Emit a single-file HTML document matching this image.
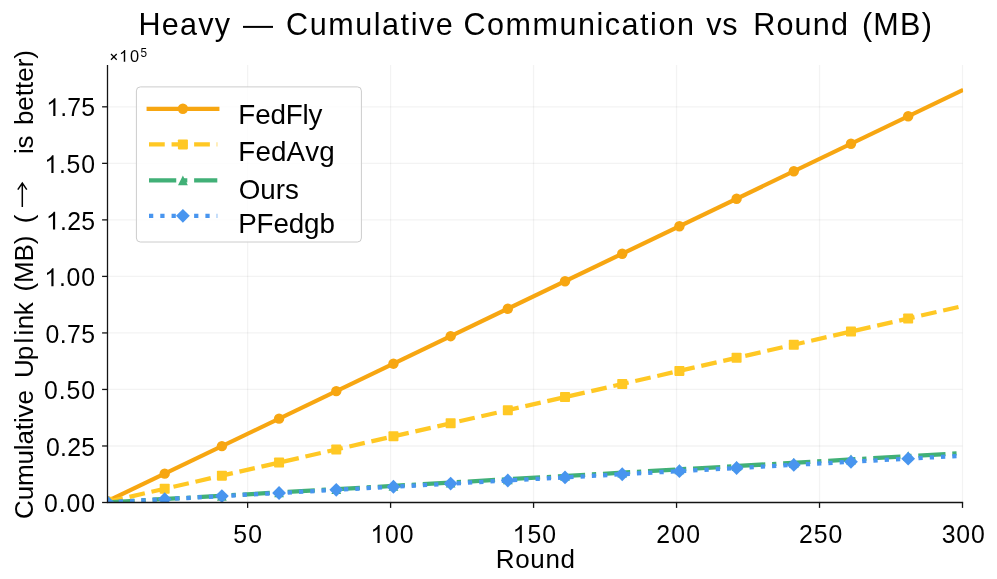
<!DOCTYPE html>
<html><head><meta charset="utf-8"><title>Heavy - Cumulative Communication vs Round (MB)</title>
<style>
html,body{margin:0;padding:0;background:#fff;}
body{width:997px;height:579px;overflow:hidden;font-family:"Liberation Sans", sans-serif;}
svg{display:block;}
text{font-family:"Liberation Sans", sans-serif;fill:#000;font-kerning:none;white-space:pre;}
svg{will-change:transform;}
text{filter:grayscale(1);}
</style></head><body>
<svg width="997" height="579" viewBox="0 0 997 579">
<rect width="997" height="579" fill="#fff"/>
<defs><clipPath id="ax"><rect x="107.5" y="65.0" width="855.6" height="437.5"/></clipPath></defs>

<g stroke="#000" stroke-opacity="0.047" stroke-width="1.3" fill="none">
<line x1="247.62" y1="65.0" x2="247.62" y2="502.5"/>
<line x1="390.59" y1="65.0" x2="390.59" y2="502.5"/>
<line x1="533.57" y1="65.0" x2="533.57" y2="502.5"/>
<line x1="676.55" y1="65.0" x2="676.55" y2="502.5"/>
<line x1="819.52" y1="65.0" x2="819.52" y2="502.5"/>
<line x1="962.50" y1="65.0" x2="962.50" y2="502.5"/>
<line x1="107.5" y1="445.98" x2="962.5" y2="445.98"/>
<line x1="107.5" y1="389.45" x2="962.5" y2="389.45"/>
<line x1="107.5" y1="332.93" x2="962.5" y2="332.93"/>
<line x1="107.5" y1="276.40" x2="962.5" y2="276.40"/>
<line x1="107.5" y1="219.88" x2="962.5" y2="219.88"/>
<line x1="107.5" y1="163.35" x2="962.5" y2="163.35"/>
<line x1="107.5" y1="106.82" x2="962.5" y2="106.82"/>
</g>
<g clip-path="url(#ax)">
<polyline points="107.50,501.13 963.21,89.82" fill="none" stroke="#F7A611" stroke-width="4.2"/>
<circle cx="107.50" cy="501.13" r="5.2" fill="#F7A611"/>
<circle cx="164.69" cy="473.64" r="5.2" fill="#F7A611"/>
<circle cx="221.88" cy="446.15" r="5.2" fill="#F7A611"/>
<circle cx="279.07" cy="418.66" r="5.2" fill="#F7A611"/>
<circle cx="336.26" cy="391.17" r="5.2" fill="#F7A611"/>
<circle cx="393.45" cy="363.68" r="5.2" fill="#F7A611"/>
<circle cx="450.64" cy="336.19" r="5.2" fill="#F7A611"/>
<circle cx="507.83" cy="308.70" r="5.2" fill="#F7A611"/>
<circle cx="565.03" cy="281.21" r="5.2" fill="#F7A611"/>
<circle cx="622.22" cy="253.72" r="5.2" fill="#F7A611"/>
<circle cx="679.41" cy="226.23" r="5.2" fill="#F7A611"/>
<circle cx="736.60" cy="198.74" r="5.2" fill="#F7A611"/>
<circle cx="793.79" cy="171.25" r="5.2" fill="#F7A611"/>
<circle cx="850.98" cy="143.77" r="5.2" fill="#F7A611"/>
<circle cx="908.17" cy="116.28" r="5.2" fill="#F7A611"/>
<polyline points="107.50,501.85 963.21,305.90" fill="none" stroke="#FFC824" stroke-width="4.26" stroke-dasharray="15.75 6.81"/>
<rect x="102.50" y="496.85" width="10.0" height="10.0" rx="0.8" fill="#FFC824"/>
<rect x="159.69" y="483.75" width="10.0" height="10.0" rx="0.8" fill="#FFC824"/>
<rect x="216.88" y="470.65" width="10.0" height="10.0" rx="0.8" fill="#FFC824"/>
<rect x="274.07" y="457.56" width="10.0" height="10.0" rx="0.8" fill="#FFC824"/>
<rect x="331.26" y="444.46" width="10.0" height="10.0" rx="0.8" fill="#FFC824"/>
<rect x="388.45" y="431.37" width="10.0" height="10.0" rx="0.8" fill="#FFC824"/>
<rect x="445.64" y="418.27" width="10.0" height="10.0" rx="0.8" fill="#FFC824"/>
<rect x="502.83" y="405.18" width="10.0" height="10.0" rx="0.8" fill="#FFC824"/>
<rect x="560.03" y="392.08" width="10.0" height="10.0" rx="0.8" fill="#FFC824"/>
<rect x="617.22" y="378.98" width="10.0" height="10.0" rx="0.8" fill="#FFC824"/>
<rect x="674.41" y="365.89" width="10.0" height="10.0" rx="0.8" fill="#FFC824"/>
<rect x="731.60" y="352.79" width="10.0" height="10.0" rx="0.8" fill="#FFC824"/>
<rect x="788.79" y="339.70" width="10.0" height="10.0" rx="0.8" fill="#FFC824"/>
<rect x="845.98" y="326.60" width="10.0" height="10.0" rx="0.8" fill="#FFC824"/>
<rect x="903.17" y="313.51" width="10.0" height="10.0" rx="0.8" fill="#FFC824"/>
<polyline points="107.50,502.34 963.21,453.01" fill="none" stroke="#41B077" stroke-width="4.26" stroke-dasharray="27.24 6.81 4.26 6.81"/>
<path d="M107.50 497.44 L112.40 507.24 L102.60 507.24 Z" fill="#41B077"/>
<path d="M164.69 494.14 L169.59 503.94 L159.79 503.94 Z" fill="#41B077"/>
<path d="M221.88 490.84 L226.78 500.64 L216.98 500.64 Z" fill="#41B077"/>
<path d="M279.07 487.55 L283.97 497.35 L274.17 497.35 Z" fill="#41B077"/>
<path d="M336.26 484.25 L341.16 494.05 L331.36 494.05 Z" fill="#41B077"/>
<path d="M393.45 480.95 L398.35 490.75 L388.55 490.75 Z" fill="#41B077"/>
<path d="M450.64 477.66 L455.54 487.46 L445.74 487.46 Z" fill="#41B077"/>
<path d="M507.83 474.36 L512.73 484.16 L502.93 484.16 Z" fill="#41B077"/>
<path d="M565.03 471.06 L569.93 480.86 L560.13 480.86 Z" fill="#41B077"/>
<path d="M622.22 467.77 L627.12 477.57 L617.32 477.57 Z" fill="#41B077"/>
<path d="M679.41 464.47 L684.31 474.27 L674.51 474.27 Z" fill="#41B077"/>
<path d="M736.60 461.17 L741.50 470.97 L731.70 470.97 Z" fill="#41B077"/>
<path d="M793.79 457.88 L798.69 467.68 L788.89 467.68 Z" fill="#41B077"/>
<path d="M850.98 454.58 L855.88 464.38 L846.08 464.38 Z" fill="#41B077"/>
<path d="M908.17 451.28 L913.07 461.08 L903.27 461.08 Z" fill="#41B077"/>
<polyline points="107.50,502.34 963.21,455.66" fill="none" stroke="#4895EF" stroke-width="4.26" stroke-dasharray="4.26 7.02"/>
<path d="M107.50 495.44 L114.40 502.34 L107.50 509.24 L100.60 502.34 Z" fill="#4895EF"/>
<path d="M164.69 492.32 L171.59 499.22 L164.69 506.12 L157.79 499.22 Z" fill="#4895EF"/>
<path d="M221.88 489.20 L228.78 496.10 L221.88 503.00 L214.98 496.10 Z" fill="#4895EF"/>
<path d="M279.07 486.08 L285.97 492.98 L279.07 499.88 L272.17 492.98 Z" fill="#4895EF"/>
<path d="M336.26 482.96 L343.16 489.86 L336.26 496.76 L329.36 489.86 Z" fill="#4895EF"/>
<path d="M393.45 479.84 L400.35 486.74 L393.45 493.64 L386.55 486.74 Z" fill="#4895EF"/>
<path d="M450.64 476.72 L457.54 483.62 L450.64 490.52 L443.74 483.62 Z" fill="#4895EF"/>
<path d="M507.83 473.60 L514.73 480.50 L507.83 487.40 L500.93 480.50 Z" fill="#4895EF"/>
<path d="M565.03 470.48 L571.93 477.38 L565.03 484.28 L558.13 477.38 Z" fill="#4895EF"/>
<path d="M622.22 467.36 L629.12 474.26 L622.22 481.16 L615.32 474.26 Z" fill="#4895EF"/>
<path d="M679.41 464.24 L686.31 471.14 L679.41 478.04 L672.51 471.14 Z" fill="#4895EF"/>
<path d="M736.60 461.12 L743.50 468.02 L736.60 474.92 L729.70 468.02 Z" fill="#4895EF"/>
<path d="M793.79 458.00 L800.69 464.90 L793.79 471.80 L786.89 464.90 Z" fill="#4895EF"/>
<path d="M850.98 454.88 L857.88 461.78 L850.98 468.68 L844.08 461.78 Z" fill="#4895EF"/>
<path d="M908.17 451.76 L915.07 458.66 L908.17 465.56 L901.27 458.66 Z" fill="#4895EF"/>
</g>
<g stroke="#141414" stroke-width="1.3" fill="none">
<line x1="107.5" y1="65.0" x2="107.5" y2="502.8"/>
<line x1="106.85" y1="502.5" x2="963.15" y2="502.5"/>
<line x1="247.62" y1="502.5" x2="247.62" y2="507.9"/>
<line x1="390.59" y1="502.5" x2="390.59" y2="507.9"/>
<line x1="533.57" y1="502.5" x2="533.57" y2="507.9"/>
<line x1="676.55" y1="502.5" x2="676.55" y2="507.9"/>
<line x1="819.52" y1="502.5" x2="819.52" y2="507.9"/>
<line x1="962.50" y1="502.5" x2="962.50" y2="507.9"/>
<line x1="102.1" y1="502.50" x2="107.5" y2="502.50"/>
<line x1="102.1" y1="445.98" x2="107.5" y2="445.98"/>
<line x1="102.1" y1="389.45" x2="107.5" y2="389.45"/>
<line x1="102.1" y1="332.93" x2="107.5" y2="332.93"/>
<line x1="102.1" y1="276.40" x2="107.5" y2="276.40"/>
<line x1="102.1" y1="219.88" x2="107.5" y2="219.88"/>
<line x1="102.1" y1="163.35" x2="107.5" y2="163.35"/>
<line x1="102.1" y1="106.82" x2="107.5" y2="106.82"/>
</g>
<text transform="translate(233.31 542.90) scale(0.9615 1)" font-size="25.79" letter-spacing="1.224">50</text>
<path transform="translate(370.40 542.90) scale(0.01211 -0.01211)" d="M763 0L583 0L583 1147Q518 1085 412.5 1023Q307 961 223 930L223 1104Q374 1175 487 1276Q600 1377 647 1472L763 1472Z" fill="#000"/>
<text transform="translate(385.09 542.90) scale(0.9615 1)" font-size="25.79" letter-spacing="0.932">00</text>
<path transform="translate(512.60 542.90) scale(0.01211 -0.01211)" d="M763 0L583 0L583 1147Q518 1085 412.5 1023Q307 961 223 930L223 1104Q374 1175 487 1276Q600 1377 647 1472L763 1472Z" fill="#000"/>
<text transform="translate(527.49 542.90) scale(0.9615 1)" font-size="25.79" letter-spacing="1.140">50</text>
<text transform="translate(656.35 542.90) scale(0.9615 1)" font-size="25.79" letter-spacing="1.164">200</text>
<text transform="translate(799.05 542.90) scale(0.9615 1)" font-size="25.79" letter-spacing="0.956">250</text>
<text transform="translate(941.66 542.90) scale(0.9615 1)" font-size="25.79" letter-spacing="0.954">300</text>
<text transform="translate(44.03 512.40) scale(0.9615 1)" font-size="25.79" letter-spacing="0.960">0.00</text>
<text transform="translate(46.03 455.50) scale(0.9615 1)" font-size="25.79" letter-spacing="0.257">0.25</text>
<text transform="translate(44.03 399.10) scale(0.9615 1)" font-size="25.79" letter-spacing="0.925">0.50</text>
<text transform="translate(45.53 342.50) scale(0.9615 1)" font-size="25.79" letter-spacing="0.431">0.75</text>
<path transform="translate(44.30 286.20) scale(0.01211 -0.01211)" d="M763 0L583 0L583 1147Q518 1085 412.5 1023Q307 961 223 930L223 1104Q374 1175 487 1276Q600 1377 647 1472L763 1472Z" fill="#000"/>
<text transform="translate(58.89 286.20) scale(0.9615 1)" font-size="25.79" letter-spacing="0.832">.00</text>
<path transform="translate(45.90 229.50) scale(0.01211 -0.01211)" d="M763 0L583 0L583 1147Q518 1085 412.5 1023Q307 961 223 930L223 1104Q374 1175 487 1276Q600 1377 647 1472L763 1472Z" fill="#000"/>
<text transform="translate(60.02 229.50) scale(0.9615 1)" font-size="25.79" letter-spacing="0.338">.25</text>
<path transform="translate(44.30 173.10) scale(0.01211 -0.01211)" d="M763 0L583 0L583 1147Q518 1085 412.5 1023Q307 961 223 930L223 1104Q374 1175 487 1276Q600 1377 647 1472L763 1472Z" fill="#000"/>
<text transform="translate(58.89 173.10) scale(0.9615 1)" font-size="25.79" letter-spacing="0.832">.50</text>
<path transform="translate(46.20 116.00) scale(0.01211 -0.01211)" d="M763 0L583 0L583 1147Q518 1085 412.5 1023Q307 961 223 930L223 1104Q374 1175 487 1276Q600 1377 647 1472L763 1472Z" fill="#000"/>
<text transform="translate(60.22 116.00) scale(0.9615 1)" font-size="25.79" letter-spacing="0.234">.75</text>
<path d="M111.0 54.0 L116.7 59.7 M116.7 54.0 L111.0 59.7" stroke="#000" stroke-width="1.25" fill="none"/>
<path transform="translate(119.11 61.80) scale(0.00801 -0.00801)" d="M763 0L583 0L583 1147Q518 1085 412.5 1023Q307 961 223 930L223 1104Q374 1175 487 1276Q600 1377 647 1472L763 1472Z" fill="#000"/>
<text transform="translate(130.02 61.80) scale(0.9615 1)" font-size="17.06" letter-spacing="1.856">0</text>
<text transform="translate(140.43 56.80) scale(0.9615 1)" font-size="12.27" letter-spacing="0.000">5</text>
<text transform="translate(138.39 35.00) scale(1.0000 1)" font-size="30.56" letter-spacing="1.286">Heavy</text>
<rect x="243.0" y="25.9" width="30.0" height="2.0" fill="#000"/>
<text transform="translate(286.10 35.00) scale(1.0000 1)" font-size="30.56" letter-spacing="1.544">Cumulative</text>
<text transform="translate(463.45 35.00) scale(1.0000 1)" font-size="30.56" letter-spacing="1.519">Communication</text>
<text transform="translate(706.20 35.00) scale(1.0000 1)" font-size="30.56" letter-spacing="0.749">vs</text>
<text transform="translate(753.19 35.00) scale(1.0000 1)" font-size="30.56" letter-spacing="1.181">Round</text>
<text transform="translate(861.90 35.00) scale(1.0000 1)" font-size="30.56" letter-spacing="1.266">(MB)</text>
<text transform="translate(495.77 567.70) scale(1.0000 1)" font-size="26.00" letter-spacing="0.648">Round</text>
<text transform="translate(32.90 519.02) rotate(-90) scale(1.0000 1)" font-size="26.00" letter-spacing="-0.131">Cumulative</text>
<text transform="translate(32.90 378.11) rotate(-90) scale(1.0000 1)" font-size="26.00" letter-spacing="0.704" dx="0.00 -1.50 1.50 1.60 -0.40 -1.20">Uplink</text>
<text transform="translate(32.90 291.51) rotate(-90) scale(1.0000 1)" font-size="26.00" letter-spacing="-0.097">(MB)</text>
<text transform="translate(32.90 223.31) rotate(-90) scale(1.0000 1)" font-size="26.00" letter-spacing="0.000">(</text>
<text transform="translate(32.90 154.04) rotate(-90) scale(1.0000 1)" font-size="26.00" letter-spacing="-0.198">is</text>
<text transform="translate(32.90 125.08) rotate(-90) scale(1.0000 1)" font-size="26.00" letter-spacing="-0.009">better)</text>
<path d="M22.3 207.0 L22.3 183.6 M17.8 189.6 L22.3 183.1 L26.8 189.6" stroke="#000" stroke-width="1.5" fill="none" stroke-linejoin="miter"/>
<rect x="136.4" y="86.9" width="224.99999999999997" height="155.1" rx="4" ry="4" fill="#fff" fill-opacity="0.8" stroke="#cccccc" stroke-width="1.0"/>
<line x1="148.7" y1="108.8" x2="217.3" y2="108.8" stroke="#F7A611" stroke-width="4.26" stroke-linecap="square"/>
<circle cx="182.90" cy="108.80" r="5.2" fill="#F7A611"/>
<text transform="translate(238.32 123.50) scale(1.0000 1)" font-size="27.78" letter-spacing="-0.153">FedFly</text>
<line x1="149.0" y1="144.4" x2="217.3" y2="144.4" stroke="#FFC824" stroke-width="4.26" stroke-dasharray="15.75 6.81"/>
<rect x="177.90" y="139.40" width="10.0" height="10.0" rx="0.8" fill="#FFC824"/>
<text transform="translate(238.32 160.90) scale(1.0000 1)" font-size="27.78" letter-spacing="0.146">FedAvg</text>
<line x1="149.0" y1="180.4" x2="217.3" y2="180.4" stroke="#41B077" stroke-width="4.26" stroke-dasharray="27.24 6.81 4.26 6.81"/>
<path d="M182.90 175.50 L187.80 185.30 L178.00 185.30 Z" fill="#41B077"/>
<text transform="translate(238.68 198.50) scale(1.0000 1)" font-size="27.78" letter-spacing="0.040">Ours</text>
<line x1="149.0" y1="215.8" x2="217.3" y2="215.8" stroke="#4895EF" stroke-width="4.26" stroke-dasharray="4.26 7.02"/>
<path d="M182.90 208.90 L189.80 215.80 L182.90 222.70 L176.00 215.80 Z" fill="#4895EF"/>
<text transform="translate(238.22 232.80) scale(1.0000 1)" font-size="27.78" letter-spacing="-0.130">PFedgb</text>
</svg></body></html>
